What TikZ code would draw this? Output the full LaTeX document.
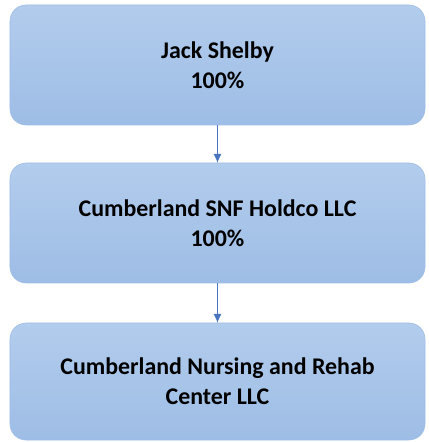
\documentclass[tikz,border=0pt]{standalone}
\usepackage{fontspec}
\setmainfont{Carlito}
\usetikzlibrary{arrows.meta}
\definecolor{boxtop}{HTML}{B2CCEC}
\definecolor{boxbot}{HTML}{9EBDE6}
\definecolor{linkblue}{HTML}{4A76C0}

\begin{document}
\begin{tikzpicture}[
    entity/.style={shape=rectangle,rounded corners=0.4cm,top color=boxtop,bottom color=boxbot,draw=boxbot,minimum width=10.375cm,minimum height=3cm,align=center,font=\fontsize{17}{21.5}\selectfont\bfseries},
    link/.style={draw=linkblue,line width=0.6pt,-{Latex[length=2.2mm,width=2mm]}}
]
                    \useasboundingbox (0,0) rectangle (10.7,11.05);
                    \node[entity] (Owner) at (5.4375,9.425) {Jack Shelby\\100\%};
                    \node[entity] (Holdco) at (5.4375,5.475) {Cumberland SNF Holdco LLC\\100\%};
                    \node[entity,minimum height=2.925cm] (Center) at (5.4375,1.5125) {Cumberland Nursing and Rehab\\Center LLC};
                    
                    \draw[link] (Owner) -- (Holdco);
                    \draw[link] (Holdco) -- (Center);
                \end{tikzpicture}
\end{document}
